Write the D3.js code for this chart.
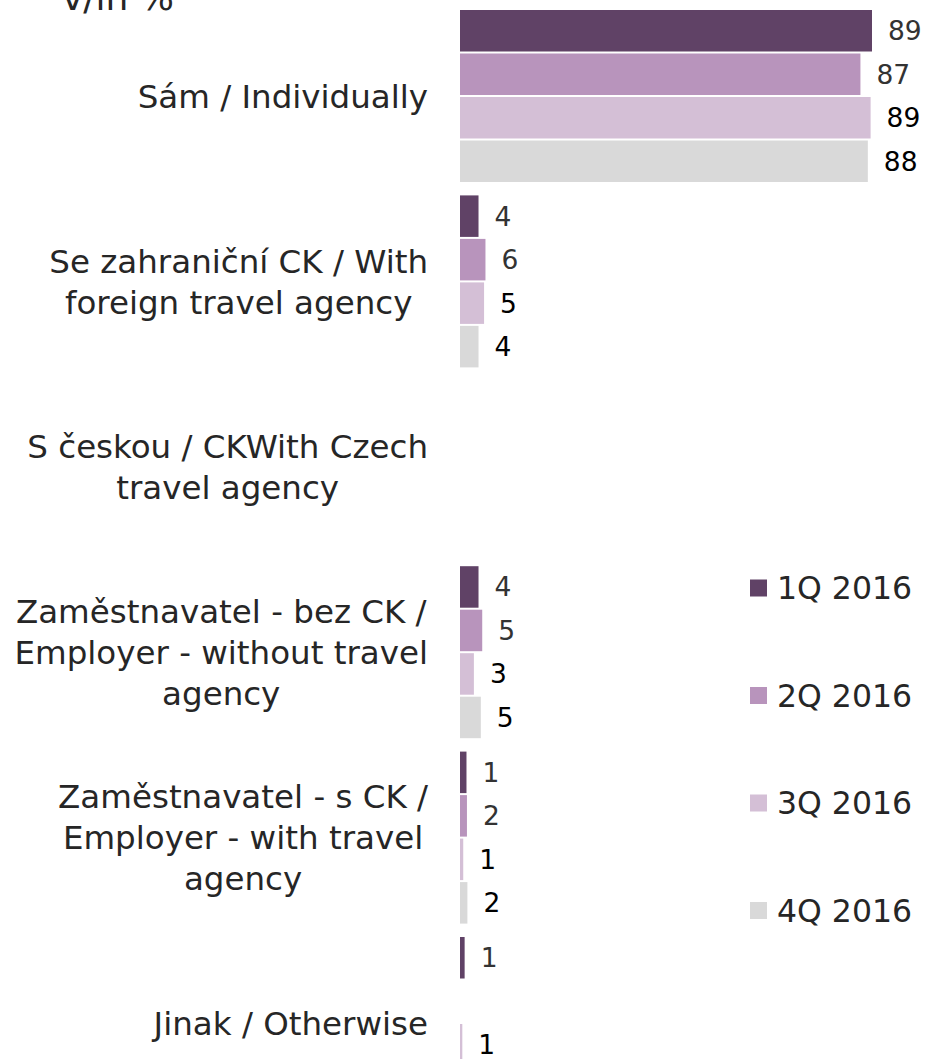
<!DOCTYPE html>
<html>
<head>
<meta charset="utf-8">
<script src="https://cdn.jsdelivr.net/npm/d3@7"></script>
<style>
  body { margin: 0; background: #fff; }
  svg { display: block; font-family: "DejaVu Sans", Verdana, sans-serif; }
</style>
</head>
<body>
<div id="chart"></div>
<script>
const categories = [
    "Sám / Individually",
    "Se zahraniční CK / With foreign travel agency",
    "S českou / CKWith Czech travel agency",
    "Zaměstnavatel - bez CK / Employer - without travel agency",
    "Zaměstnavatel - s CK / Employer - with travel agency",
    "Jinak / Otherwise"
];
const series = ["1Q 2016", "2Q 2016", "3Q 2016", "4Q 2016"];

// values per quarter, in category order (null = no bar)
const q1 = [89, 4.0, null, 4.0, 1.4, 1.0];
const q2 = [86.5, 5.5, null, 4.8, 1.5, null];
const q3 = [88.7, 5.2, null, 3.0, 0.7, 0.5];
const q4 = [88.1, 4.0, null, 4.5, 1.6, null];

const colors = ["#604266", "#b894bc", "#d4bfd6", "#d9d9d9"];
const labelColors = ["#333333", "#333333", "#000000", "#000000"];

function main() {
    const canvasWidth = 926;
    const canvasHeight = 1059;

    const svg = d3.select("#chart").append("svg")
        .attr("width", canvasWidth)
        .attr("height", canvasHeight);

    const allValues = [q1, q2, q3, q4];
    const data = categories.map((c, i) => ({
        cat: c,
        vals: series.map((s, j) => ({ series: s, idx: j, value: allValues[j][i] }))
    }));

    const xScale = d3.scaleLinear()
        .domain([0, 89])
        .range([460, 872]);

    const yScale = d3.scaleBand()
        .domain(categories)
        .range([10, 1109])
        .paddingInner(0.0723)
        .paddingOuter(0);

    const ySub = d3.scaleBand()
        .domain(series)
        .range([0, yScale.bandwidth()])
        .paddingInner(0.046);

    // title, cut at top edge like the original
    svg.append("text")
        .attr("x", 62)
        .attr("y", 10)
        .attr("font-size", "36px")
        .attr("fill", "#262626")
        .text("v/in %");

    const groups = svg.selectAll(".group")
        .data(data)
        .join("g")
        .attr("class", "group")
        .attr("transform", d => "translate(0," + yScale(d.cat) + ")");

    groups.selectAll("rect")
        .data(d => d.vals.filter(v => v.value != null))
        .join("rect")
        .attr("x", xScale(0))
        .attr("y", d => ySub(d.series))
        .attr("width", d => xScale(d.value) - xScale(0))
        .attr("height", ySub.bandwidth())
        .attr("fill", d => colors[d.idx]);

    groups.selectAll(".val")
        .data(d => d.vals.filter(v => v.value != null))
        .join("text")
        .attr("class", "val")
        .attr("x", d => xScale(d.value) + 16)
        .attr("y", d => ySub(d.series) + ySub.bandwidth() / 2 + 9.5)
        .attr("font-size", "26.5px")
        .attr("fill", d => labelColors[d.idx])
        .text(d => Math.round(d.value));

    // category labels: wrapped, lines centred, block right-aligned to the bars
    const fontSize = 32.5;
    const lineH = 41;
    const rightEdge = 428;
    groups.each(function (d) {
        const g = d3.select(this);
        const t = g.append("text")
            .attr("text-anchor", "middle")
            .attr("font-size", fontSize + "px")
            .attr("fill", "#262626");
        const words = d.cat.split(" ");
        const lines = [];
        let line = [];
        const probe = t.append("tspan");
        let maxW = 0;
        const measure = s => { probe.text(s); return probe.node().getComputedTextLength(); };
        words.forEach(w => {
            line.push(w);
            if (measure(line.join(" ")) > 422 && line.length > 1) {
                line.pop();
                lines.push(line.join(" "));
                line = [w];
            }
        });
        lines.push(line.join(" "));
        lines.forEach(l => { maxW = Math.max(maxW, measure(l)); });
        probe.remove();
        const cx = rightEdge - maxW / 2;
        const mid = yScale.bandwidth() / 2;
        const start = mid - (lines.length - 1) * lineH / 2 + fontSize * 0.36;
        lines.forEach((l, i) => {
            t.append("tspan")
                .attr("x", cx)
                .attr("y", start + i * lineH)
                .text(l);
        });
    });

    // legend
    const legend = svg.append("g")
        .selectAll("g")
        .data(series)
        .join("g")
        .attr("transform", (d, i) => "translate(750," + (588 + i * 107.5) + ")");

    legend.append("rect")
        .attr("x", 0)
        .attr("y", -8.5)
        .attr("width", 17)
        .attr("height", 17)
        .attr("fill", (d, i) => colors[i]);

    legend.append("text")
        .attr("x", 27)
        .attr("y", 11)
        .attr("font-size", "31.5px")
        .attr("fill", "#262626")
        .text(d => d);
}
main();
</script>
</body>
</html>
